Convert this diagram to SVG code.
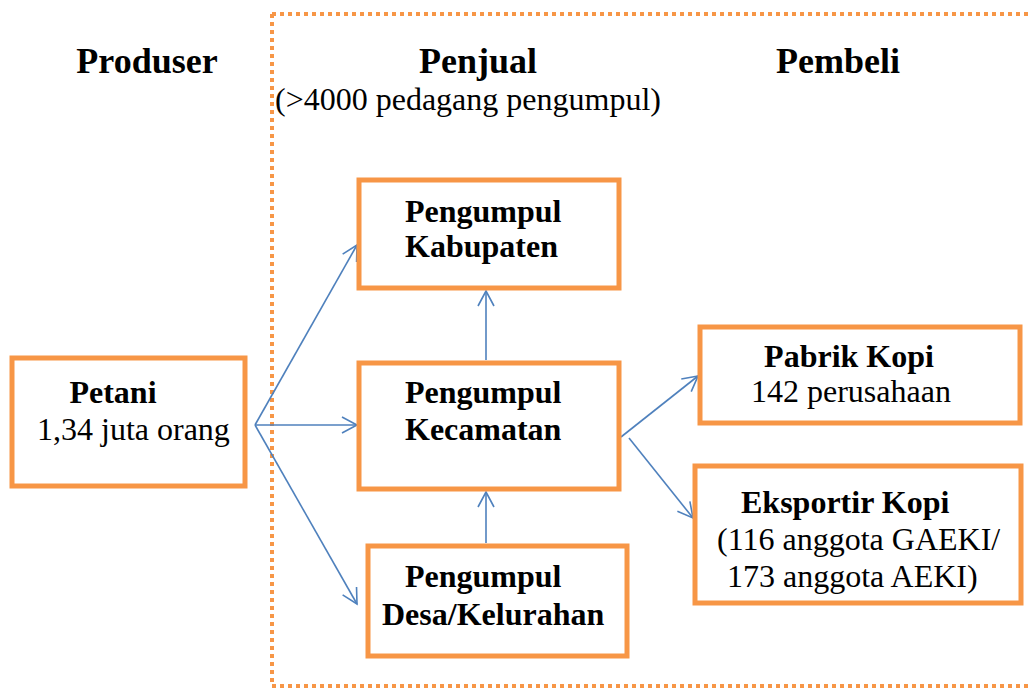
<svg xmlns="http://www.w3.org/2000/svg" width="1036" height="688" viewBox="0 0 1036 688">
<style>
.box{fill:#fff;stroke:#F79646;stroke-width:5}
.b{font-family:"Liberation Serif","Times New Roman",serif;font-weight:bold;font-size:32px;fill:#000}
.r{font-family:"Liberation Serif","Times New Roman",serif;font-size:32px;fill:#000}
.h{font-family:"Liberation Serif","Times New Roman",serif;font-weight:bold;font-size:36px;fill:#000}
.c{fill:none;stroke:#4F81BD;stroke-width:1.6;marker-end:url(#ah)}
</style>
<defs>
<marker id="ah" markerUnits="userSpaceOnUse" markerWidth="20" markerHeight="20" refX="16" refY="9" orient="auto">
<path d="M1,1 L16,9 L1,17" fill="none" stroke="#4F81BD" stroke-width="1.6"/>
</marker>
</defs>
<rect width="1036" height="688" fill="#fff"/>
<path d="M272,14 H1032 M272,14 V686 H1032" fill="none" stroke="#F79646" stroke-width="4" stroke-dasharray="4,4"/>
<g id="headers">
<text class="h" x="147" y="73" text-anchor="middle">Produser</text>
<text class="h" x="478" y="73" text-anchor="middle">Penjual</text>
<text class="r" x="275" y="110">(&gt;4000 pedagang pengumpul)</text>
<text class="h" x="838" y="73" text-anchor="middle">Pembeli</text>
</g>
<g id="connectors">
<line class="c" x1="255" y1="425" x2="357" y2="245"/>
<line class="c" x1="255" y1="425" x2="357" y2="425"/>
<line class="c" x1="255" y1="425" x2="357" y2="604"/>
<line class="c" x1="486" y1="360" x2="486" y2="291"/>
<line class="c" x1="486" y1="543" x2="486" y2="492"/>
<line class="c" x1="621" y1="437" x2="698" y2="376"/>
<line class="c" x1="629" y1="438" x2="693" y2="518"/>
</g>
<g id="petani">
<rect class="box" x="12" y="358" width="233" height="128"/>
<text class="b" x="113" y="403" text-anchor="middle">Petani</text>
<text class="r" x="37" y="440">1,34 juta orang</text>
</g>
<g id="kabupaten">
<rect class="box" x="359" y="180" width="260" height="108"/>
<text class="b" x="405" y="222">Pengumpul</text>
<text class="b" x="405" y="257">Kabupaten</text>
</g>
<g id="kecamatan">
<rect class="box" x="359" y="363" width="260" height="126"/>
<text class="b" x="405" y="403">Pengumpul</text>
<text class="b" x="405" y="440">Kecamatan</text>
</g>
<g id="desa">
<rect class="box" x="368" y="546" width="259" height="110"/>
<text class="b" x="405" y="587">Pengumpul</text>
<text class="b" x="382" y="625">Desa/Kelurahan</text>
</g>
<g id="pabrik">
<rect class="box" x="700" y="327" width="320" height="96"/>
<text class="b" x="849" y="367" text-anchor="middle">Pabrik Kopi</text>
<text class="r" x="751" y="402">142 perusahaan</text>
</g>
<g id="eksportir">
<rect class="box" x="695" y="466" width="326" height="137"/>
<text class="b" x="741" y="513">Eksportir Kopi</text>
<text class="r" x="717" y="550">(116 anggota GAEKI/</text>
<text class="r" x="727" y="587">173 anggota AEKI)</text>
</g>
</svg>
